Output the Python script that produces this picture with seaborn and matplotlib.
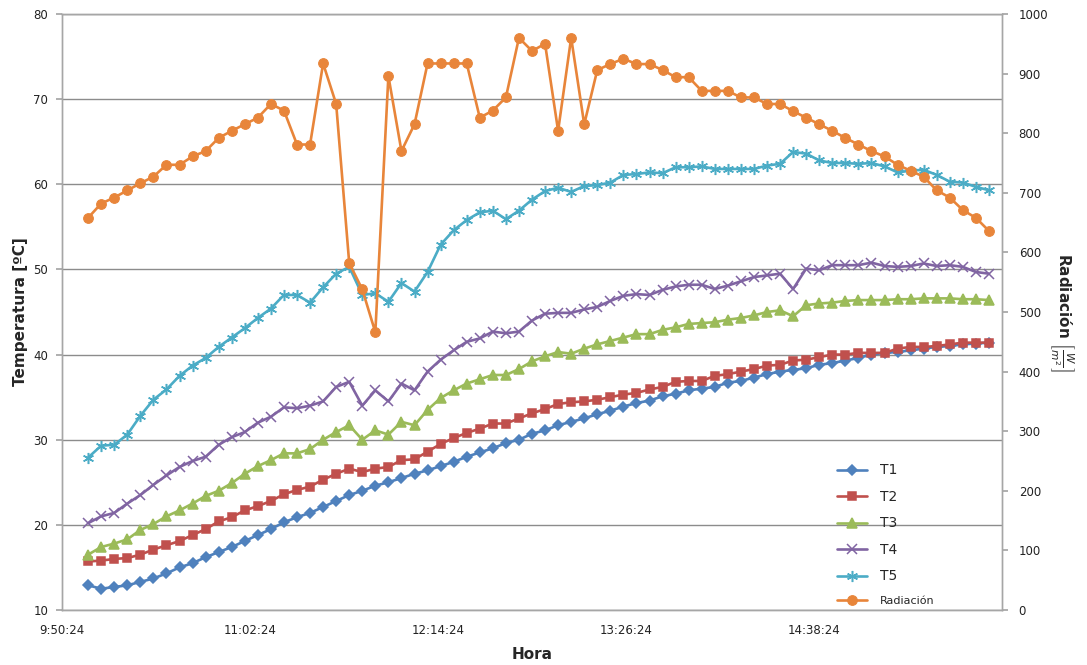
import matplotlib
matplotlib.use("Agg")
import matplotlib.pyplot as plt
import seaborn as sns
import pandas as pd

# ---------------- data ----------------
times = [
    "10:00:24", "10:05:24", "10:10:24", "10:15:24", "10:20:24", "10:25:24", "10:30:24",
    "10:35:24", "10:40:24", "10:45:24", "10:50:24", "10:55:24", "11:00:24", "11:05:24",
    "11:10:24", "11:15:24", "11:20:24", "11:25:24", "11:30:24", "11:35:24", "11:40:24",
    "11:45:24", "11:50:24", "11:55:24", "12:00:24", "12:05:24", "12:10:24", "12:15:24",
    "12:20:24", "12:25:24", "12:30:24", "12:35:24", "12:40:24", "12:45:24", "12:50:24",
    "12:55:24", "13:00:24", "13:05:24", "13:10:24", "13:15:24", "13:20:24", "13:25:24",
    "13:30:24", "13:35:24", "13:40:24", "13:45:24", "13:50:24", "13:55:24", "14:00:24",
    "14:05:24", "14:10:24", "14:15:24", "14:20:24", "14:25:24", "14:30:24", "14:35:24",
    "14:40:24", "14:45:24", "14:50:24", "14:55:24", "15:00:24", "15:05:24", "15:10:24",
    "15:15:24", "15:20:24", "15:25:24", "15:30:24", "15:35:24", "15:40:24", "15:45:24",
]

t1 = [12.9, 12.5, 12.7, 12.9, 13.3, 13.7, 14.3, 15.0, 15.5, 16.2, 16.8, 17.4, 18.1, 18.8,
      19.5, 20.3, 20.9, 21.4, 22.1, 22.8, 23.5, 24.0, 24.6, 25.0,
      25.5, 26.0, 26.4, 26.9, 27.4, 28.0, 28.5, 29.0, 29.6, 30.0, 30.7, 31.1, 31.7, 32.1,
      32.5, 33.0, 33.4, 33.9, 34.3, 34.6, 35.1, 35.4, 35.8, 36.0,
      36.2, 36.7, 36.9, 37.3, 37.7, 38.0, 38.2, 38.4, 38.8, 39.0, 39.3, 39.6, 40.0, 40.2,
      40.3, 40.5, 40.7, 40.9, 41.0, 41.2, 41.3, 41.4]

t2 = [15.7, 15.8, 16.0, 16.1, 16.5, 17.1, 17.6, 18.1, 18.8, 19.5, 20.4, 20.9, 21.7, 22.2,
      22.8, 23.6, 24.1, 24.5, 25.3, 26.0, 26.6, 26.2, 26.6, 26.8,
      27.6, 27.7, 28.6, 29.5, 30.2, 30.8, 31.3, 31.9, 31.9, 32.5, 33.1, 33.6, 34.2, 34.4,
      34.5, 34.7, 35.0, 35.3, 35.5, 35.9, 36.2, 36.8, 36.9, 36.9,
      37.5, 37.7, 38.0, 38.3, 38.7, 38.8, 39.3, 39.4, 39.7, 40.0, 40.0, 40.2, 40.2, 40.2,
      40.7, 40.9, 40.9, 41.0, 41.2, 41.4, 41.4, 41.4]

t3 = [16.5, 17.4, 17.8, 18.3, 19.4, 20.1, 21.0, 21.7, 22.5, 23.4, 24.0, 24.9, 26.0, 26.9,
      27.6, 28.4, 28.4, 28.9, 30.0, 30.9, 31.7, 30.0, 31.1, 30.6,
      32.1, 31.7, 33.5, 34.9, 35.8, 36.6, 37.1, 37.6, 37.6, 38.3, 39.2, 39.8, 40.3, 40.1,
      40.7, 41.2, 41.6, 42.0, 42.4, 42.4, 42.9, 43.2, 43.6, 43.7,
      43.8, 44.1, 44.3, 44.6, 45.0, 45.2, 44.5, 45.8, 46.0, 46.1, 46.3, 46.4, 46.4, 46.4,
      46.5, 46.5, 46.6, 46.6, 46.6, 46.5, 46.5, 46.4]

t4 = [20.2, 21.0, 21.4, 22.5, 23.5, 24.7, 25.8, 26.8, 27.5, 28.0, 29.4, 30.3, 30.9, 32.0,
      32.7, 33.8, 33.7, 34.0, 34.5, 36.2, 36.8, 34.0, 35.8, 34.5,
      36.6, 35.8, 38.0, 39.4, 40.5, 41.5, 41.9, 42.7, 42.5, 42.7, 44.0, 44.8, 44.9, 44.9,
      45.3, 45.6, 46.3, 46.9, 47.1, 47.0, 47.6, 48.0, 48.2, 48.2,
      47.7, 48.1, 48.6, 49.1, 49.3, 49.5, 47.7, 50.1, 49.9, 50.5, 50.5, 50.5, 50.8, 50.4,
      50.3, 50.4, 50.7, 50.4, 50.5, 50.3, 49.7, 49.5]

t5 = [27.9, 29.3, 29.4, 30.6, 32.8, 34.7, 35.9, 37.5, 38.7, 39.6, 40.9, 42.0, 43.1, 44.3,
      45.4, 47.0, 47.0, 46.1, 47.9, 49.5, 50.3, 47.0, 47.2, 46.2,
      48.4, 47.4, 49.7, 52.9, 54.6, 55.8, 56.7, 56.9, 55.9, 56.9, 58.2, 59.2, 59.6, 59.1,
      59.8, 59.9, 60.2, 61.1, 61.2, 61.4, 61.3, 62.0, 62.0, 62.1,
      61.8, 61.8, 61.8, 61.8, 62.2, 62.4, 63.8, 63.6, 62.8, 62.5, 62.5, 62.4, 62.5, 62.1,
      61.4, 61.6, 61.7, 61.1, 60.3, 60.2, 59.7, 59.3]

radiacion = [658, 682, 692, 704, 716, 727, 747, 747, 761, 770, 792, 804, 815, 826,
             849, 838, 781, 781, 917, 849, 582, 538, 466, 896,
             770, 815, 917, 917, 917, 917, 826, 838, 860, 960, 938, 950, 804, 960,
             815, 906, 916, 925, 916, 916, 906, 894, 894, 871,
             871, 871, 860, 860, 849, 849, 837, 826, 815, 804, 792, 781, 770, 761,
             747, 737, 727, 704, 692, 671, 658, 636]

x_tick_labels = ["9:50:24", "11:02:24", "12:14:24", "13:26:24", "14:38:24"]
series_names = ["T1", "T2", "T3", "T4", "T5"]

# ---------------- helpers ----------------
def to_min(s, origin="9:50:24"):
    h, m, sec = [int(v) for v in s.split(":")]
    h0, m0, s0 = [int(v) for v in origin.split(":")]
    return (h * 3600 + m * 60 + sec - (h0 * 3600 + m0 * 60 + s0)) / 60.0

x = [to_min(t) for t in times]
df = pd.DataFrame({"x": x, "T1": t1, "T2": t2, "T3": t3, "T4": t4, "T5": t5,
                   "Radiación": radiacion})

sns.set_theme(style="white")
plt.rcParams["font.family"] = ["DejaVu Sans"]

fig = plt.figure(figsize=(10.87, 6.65), dpi=100)
ax = fig.add_axes([62 / 1087, 1 - 610 / 665, 940 / 1087, 596 / 665])
ax2 = ax.twinx()

colors = {"T1": "#4F81BD", "T2": "#C0504D", "T3": "#9BBB59", "T4": "#8064A2",
          "T5": "#4BACC6", "Radiación": "#E8853A"}
markers = {"T1": ("D", 5), "T2": ("s", 6), "T3": ("^", 6.5), "T4": ("x", 6.5),
           "T5": ((6, 2, 0), 8), "Radiación": ("o", 7)}

for name in series_names:
    c = colors[name]
    mk, ms = markers[name]
    sns.lineplot(data=df, x="x", y=name, ax=ax, color=c, linewidth=1.9,
                 marker=mk, markersize=ms, markeredgecolor=c, markerfacecolor=c,
                 markeredgewidth=1.1, label=name, legend=False)

c = colors["Radiación"]
sns.lineplot(data=df, x="x", y="Radiación", ax=ax2, color=c, linewidth=1.9,
             marker="o", markersize=7, markeredgecolor=c, markerfacecolor=c,
             label="Radiación", legend=False)

# axes limits and ticks
ax.set_xlim(0, 360)
ax.set_ylim(10, 80)
ax2.set_ylim(0, 1000)
ax.set_xticks([to_min(t) for t in x_tick_labels])
ax.set_xticklabels(x_tick_labels)
ax.set_yticks(range(10, 81, 10))
ax2.set_yticks(range(0, 1001, 100))

grid_col = "#8C8C8C"
ax.yaxis.grid(True, color=grid_col, linewidth=1.0)
ax.xaxis.grid(False)
ax2.grid(False)
ax.set_axisbelow(True)

spine_col = "#A6A6A6"
for a in (ax, ax2):
    for s in a.spines.values():
        s.set_color(spine_col)
        s.set_linewidth(1.0)
ax.tick_params(axis="y", which="both", length=4, color=spine_col, labelsize=8.5,
               labelcolor="#222222", pad=6, left=True)
ax.tick_params(axis="x", length=0, labelsize=8.5, labelcolor="#222222", pad=10)
ax2.tick_params(axis="y", length=4, color=spine_col, labelsize=8.5,
                labelcolor="#222222", pad=8, right=True)

ax.set_xlabel("Hora", fontsize=11, fontweight="bold", labelpad=7)
ax.set_ylabel("Temperatura [ºC]", fontsize=11, fontweight="bold", labelpad=4)
ax2.set_ylabel(r"Radiación $\left[\frac{W}{m^2}\right]$", fontsize=11,
               fontweight="bold", rotation=270, labelpad=20)

# legend
h1, l1 = ax.get_legend_handles_labels()
h2, l2 = ax2.get_legend_handles_labels()
leg = ax2.legend(h1 + h2, l1 + l2, loc="upper left",
                 bbox_to_anchor=(826 / 1087, 1 - 452 / 665),
                 bbox_transform=fig.transFigure, frameon=False, fontsize=9,
                 labelspacing=1.0, handlelength=2.4, handletextpad=1.0)
for txt in leg.get_texts():
    if txt.get_text() != "Radiación":
        txt.set_fontsize(10)
    else:
        txt.set_fontsize(8)

fig.savefig("out.png", dpi=100, facecolor="white")
